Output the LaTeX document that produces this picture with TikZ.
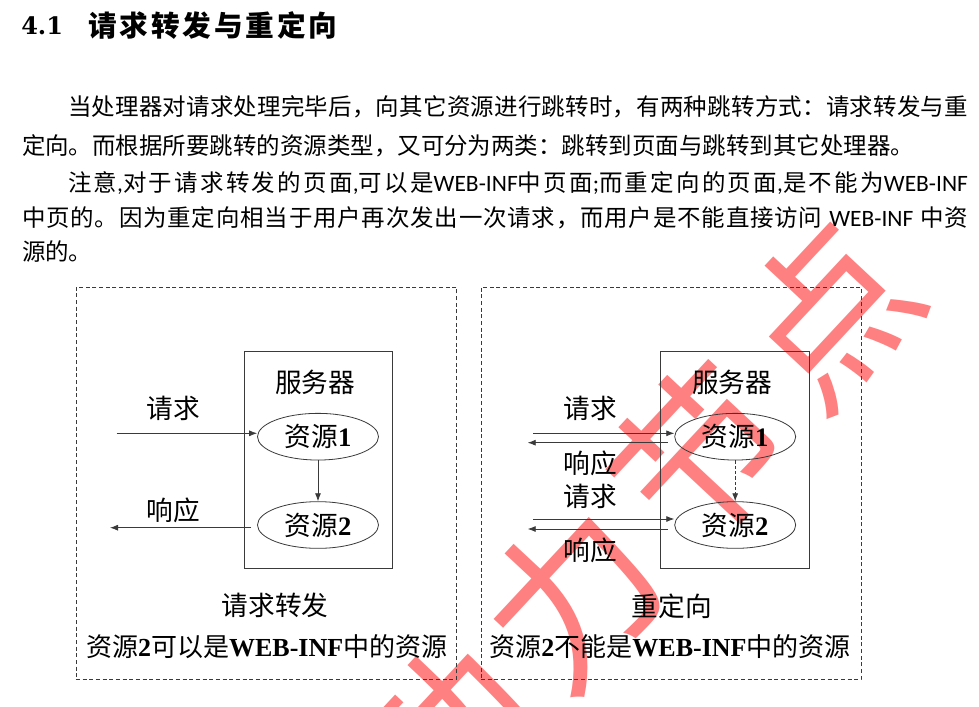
\documentclass[tikz,border=0pt]{standalone}
\usepackage{fontspec}
\setmainfont{Liberation Serif}
\newfontfamily\cjk{Noto Sans CJK SC}
\newfontfamily\lat{Carlito}
\newfontfamily\tms{Liberation Serif}
\newfontfamily\numfont{DejaVu Serif}
\usetikzlibrary{arrows.meta,shapes.geometric}
% stretchable glue between CJK characters, so that lines can be justified
\XeTeXinterchartokenstate=1
\newcount\cjkcode
\cjkcode="3000 \loop \XeTeXcharclass\cjkcode=1 \advance\cjkcode 1 \ifnum\cjkcode<"3040 \repeat
\cjkcode="4E00 \loop \XeTeXcharclass\cjkcode=1 \advance\cjkcode 1 \ifnum\cjkcode<"A000 \repeat
\cjkcode="FF00 \loop \XeTeXcharclass\cjkcode=1 \advance\cjkcode 1 \ifnum\cjkcode<"FFF0 \repeat
\XeTeXinterchartoks 1 1 = {\hskip 0pt plus 1pt\relax}
\definecolor{ink}{HTML}{3A3A3A}
\definecolor{stamp}{HTML}{FF8080}
\newcommand{\bodyline}[2]{\makebox[#1][s]{#2}}
\newcommand{\bnum}[1]{{\tms\bfseries #1}}
\begin{document}
\begin{tikzpicture}[x=0.75pt,y=-0.75pt,
  txt/.style={inner sep=0pt, outer sep=0pt, anchor=west, text height=13.5pt, text depth=1pt, font=\cjk\fontsize{17.6pt}{20pt}\selectfont},
  lbl/.style={inner sep=0pt, outer sep=0pt, text height=16pt, text depth=1pt, font=\cjk\fontsize{20pt}{24pt}\selectfont},
  res/.style={ellipse, draw=ink, line width=0.6pt, minimum width=90.75pt, minimum height=35pt, inner sep=0pt, text height=16pt, text depth=1pt, font=\cjk\fontsize{20pt}{24pt}\selectfont},
  srvbox/.style={draw=ink, line width=0.6pt, minimum width=111.5pt, minimum height=162.75pt, inner sep=0pt},
  framebox/.style={draw=ink, line width=0.5pt, dash pattern=on 3pt off 2pt, minimum height=294.4pt, inner sep=0pt},
  arr/.style={draw=ink, line width=0.6pt, -{Latex[length=6pt,width=4.5pt]}},
  wm/.style={inner sep=0pt, text=stamp, rotate=47, font=\cjk\fontsize{127pt}{127pt}\selectfont}
]
\useasboundingbox (0,0) rectangle (979,707);
\fill[white] (0,0) rectangle (979,707);
\clip (0,0) rectangle (979,707);

% background stamp
\node[wm] (wm1) at (446,737) {动};
\node[wm] (wm2) at (573,596) {力};
\node[wm] (wm3) at (700,455) {节};
\node[wm] (wm4) at (827,314) {点};

% section heading
\node[inner sep=0pt, anchor=west, font=\numfont\bfseries\fontsize{18pt}{20pt}\selectfont] (secnum) at (21,26) {4.1};
\node[inner sep=0pt, anchor=west, text height=17pt, text depth=1pt, font=\cjk\bfseries\fontsize{21.5pt}{24pt}\selectfont] (sectitle) at (88,26) {\bodyline{186.75pt}{请求转发与重定向}};

% paragraphs
\node[txt] (p1) at (68,107) {\bodyline{675pt}{当处理器对请求处理完毕后，向其它资源进行跳转时，有两种跳转方式：请求转发与重}};
\node[txt] (p2) at (22,146) {\bodyline{669pt}{定向。而根据所要跳转的资源类型，又可分为两类：跳转到页面与跳转到其它处理器。}};
\node[txt] (p3) at (68,183) {\bodyline{675pt}{注意{\lat,}对于请求转发的页面{\lat,}可以是{\lat WEB-INF}中页面{\lat;}而重定向的页面{\lat,}是不能为{\lat WEB-INF}}};
\node[txt] (p4) at (22,218) {\bodyline{709.5pt}{中页的。因为重定向相当于用户再次发出一次请求，而用户是不能直接访问 {\lat WEB-INF} 中资}};
\node[txt] (p5) at (22,252) {源的。};

% ---- forward (left) ----
\node[framebox, minimum width=285.4pt] (frameL) at (266.25,483.25) {};
\node[srvbox] (srvL) at (318.35,459.5) {};
\node[lbl] (srvLt) at (315,382) {服务器};
\node[res] (L1) at (318,436.7) {资源\bnum{1}};
\node[res] (L2) at (318,525) {资源\bnum{2}};
\node[lbl] (reqL) at (173.3,408.3) {请求};
\node[lbl] (rspL) at (173.3,510) {响应};
\coordinate (reqLs) at (116.7,433.3);
\coordinate (rspLs) at (251,527.7);
\coordinate (rspLe) at (110,527.7);
\draw[arr] (reqLs) -- (reqLs -| L1.west);
\draw[arr] (rspLs) -- (rspLe);
\draw[arr] (L1.south) -- (L2.north);
\node[lbl] (capL) at (275,605) {请求转发};
\node[lbl, font=\cjk\fontsize{19.5pt}{24pt}\selectfont] (noteL) at (266.7,646.7) {资源\bnum{2}可以是\bnum{WEB-INF}中的资源};

% ---- redirect (right) ----
\node[framebox, minimum width=285pt] (frameR) at (671,483.25) {};
\node[srvbox] (srvR) at (735,459.5) {};
\node[lbl] (srvRt) at (732,382) {服务器};
\node[res] (R1) at (735.2,436.7) {资源\bnum{1}};
\node[res] (R2) at (735.2,525) {资源\bnum{2}};
\node[lbl] (reqR1) at (590,408.3) {请求};
\node[lbl] (rspR1) at (590,463.3) {响应};
\node[lbl] (reqR2) at (590,496.7) {请求};
\node[lbl] (rspR2) at (590,550) {响应};
\coordinate (reqR1s) at (533.3,433.3);
\coordinate (rspR1s) at (667.7,442.7);
\coordinate (rspR1e) at (527.7,442.7);
\coordinate (reqR2s) at (533.3,519);
\coordinate (rspR2s) at (667.7,529);
\coordinate (rspR2e) at (527.7,529);
\draw[arr] (reqR1s) -- (reqR1s -| R1.west);
\draw[arr] (rspR1s) -- (rspR1e);
\draw[arr] (reqR2s) -- (reqR2s -| R2.west);
\draw[arr] (rspR2s) -- (rspR2e);
\draw[arr, dash pattern=on 2.5pt off 1.5pt] (R1.south) -- (R2.north);
\node[lbl] (capR) at (671.7,606.7) {重定向};
\node[lbl, font=\cjk\fontsize{19.5pt}{24pt}\selectfont] (noteR) at (670,646.7) {资源\bnum{2}不能是\bnum{WEB-INF}中的资源};
\end{tikzpicture}
\end{document}
